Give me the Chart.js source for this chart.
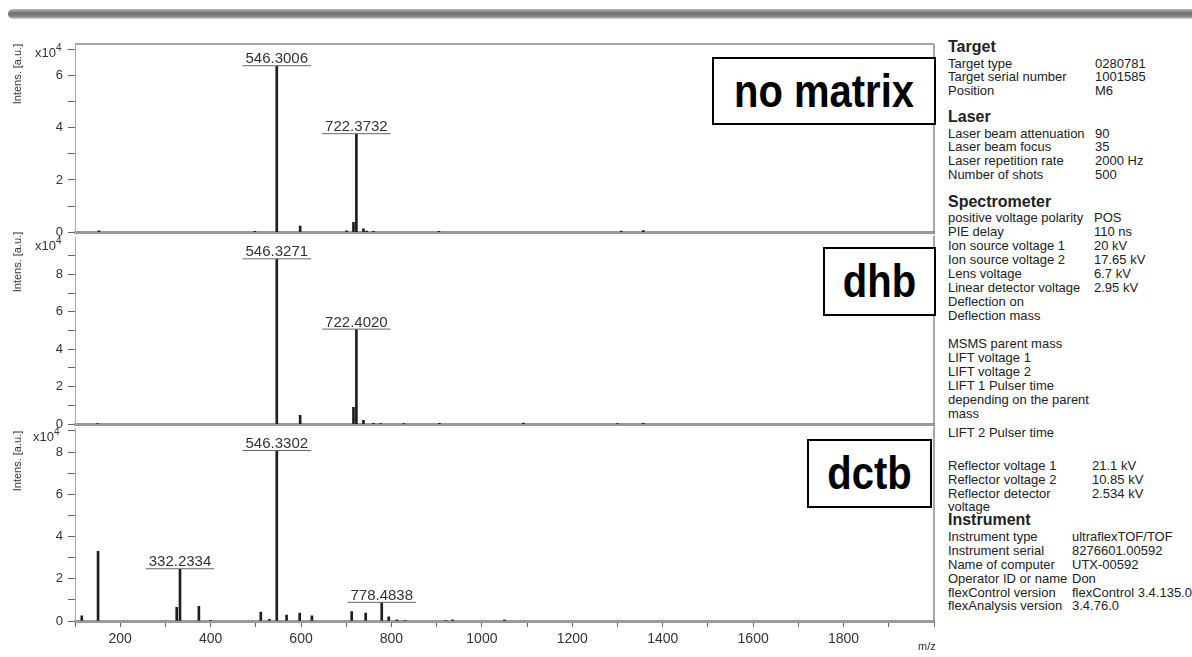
<!DOCTYPE html>
<html><head><meta charset="utf-8">
<script src="https://cdn.jsdelivr.net/npm/chart.js@4.4.1/dist/chart.umd.min.js"></script>
<style>
body{margin:0;width:1192px;height:657px;background:#fff;position:relative;overflow:hidden;font-family:"Liberation Sans",Arial,sans-serif;color:#222}
.band{position:absolute;left:8px;top:9px;width:1184px;height:10px;border-radius:5px 0 0 5px;background:linear-gradient(#b8b8b8,#6e6e6e 40%,#888 75%,#d8d8d8)}
.cv{position:absolute;left:0}
.ylab{position:absolute;font-size:11px;transform:translate(-50%,-50%) rotate(-90deg);white-space:nowrap;color:#333}
.mult{position:absolute;font-size:13px;color:#333;line-height:14px}
.mult sup{font-size:10px;vertical-align:6px;line-height:0}
.tag{position:absolute;border:2px solid #000;box-sizing:border-box;display:flex;align-items:center;justify-content:center;font-weight:bold;font-size:40px;color:#000;background:#fff}
.tag span{display:inline-block;transform:scaleY(1.15)}
.info div{position:absolute;white-space:nowrap;line-height:14px;font-size:13px;color:#222}
.info div.h{font-weight:bold;font-size:16px;line-height:16px}
.mz{position:absolute;left:918px;top:640px;font-size:11px;color:#333}
</style>
</head><body>
<div class="band"></div>

<div class="cv" style="top:30px"><canvas id="c1" width="945" height="215"></canvas></div>
<div class="cv" style="top:225px"><canvas id="c2" width="945" height="212"></canvas></div>
<div class="cv" style="top:416px"><canvas id="c3" width="945" height="241"></canvas></div>

<div class="ylab" style="left:17px;top:74px">Intens. [a.u.]</div>
<div class="ylab" style="left:17px;top:262px">Intens. [a.u.]</div>
<div class="ylab" style="left:17px;top:461px">Intens. [a.u.]</div>
<div class="mult" style="left:35px;top:46px">x10<sup>4</sup></div>
<div class="mult" style="left:35px;top:239px">x10<sup>4</sup></div>
<div class="mult" style="left:33px;top:430px">x10<sup>4</sup></div>

<div class="tag" style="left:712px;top:57px;width:224px;height:68px"><span>no matrix</span></div>
<div class="tag" style="left:823px;top:247px;width:113px;height:69px"><span>dhb</span></div>
<div class="tag" style="left:807px;top:439px;width:125px;height:69px"><span>dctb</span></div>
<div class="mz">m/z</div>

<div class="info" id="info"></div>

<script>
// ---- data (m/z, intensity in a.u.) ----
const noMatrixMz  = [153, 498, 546.3006, 598, 701, 716, 722.3732, 738, 745, 760, 905, 1308, 1357];
const noMatrixInt = [500, 300, 63500, 2300, 500, 3800, 37500, 1300, 400, 300, 300, 400, 600];
const noMatrixPeakLabels = [546.3006, 722.3732];

const dhbMz  = [150, 546.3271, 598, 716, 722.4020, 738, 760, 776, 827, 906, 1092, 1300, 1357];
const dhbInt = [300, 88000, 4700, 9000, 50500, 2000, 500, 300, 200, 400, 600, 200, 500];
const dhbPeakLabels = [546.3271, 722.4020];

const dctbMz  = [115, 151, 325, 332.2334, 374, 400, 511, 530, 546.3302, 568, 597, 624, 712, 743, 778.4838, 794, 812, 830, 920, 935, 1050];
const dctbInt = [2500, 33000, 6500, 24500, 7000, 300, 4200, 800, 80500, 2800, 3800, 2500, 4500, 3800, 8600, 2000, 500, 300, 300, 500, 500];
const dctbPeakLabels = [332.2334, 546.3302, 778.4838];

const yMaxes = [72000, 99500, 91000];
// tick marks (x10^4); labels on even values
const yTicksNoMatrix = [0, 1, 2, 3, 4, 5, 6, 7];
const yTicksDhb      = [0, 1, 2, 3, 4, 5, 6, 7, 8, 9];
const yTicksDctb     = [0, 1, 2, 3, 4, 5, 6, 7, 8, 9];
const yTickLabels    = [0, 2, 4, 6, 8];

const xMin = 100, xMax = 2000;
const xTicks = [100, 200, 300, 400, 500, 600, 700, 800, 900, 1000, 1100, 1200, 1300, 1400, 1500, 1600, 1700, 1800, 1900, 2000];
const xLabelTicks = [200, 400, 600, 800, 1000, 1200, 1400, 1600, 1800];

const infoRows = [
  // [centerY, label, value, valueX, heading]
  [47,'Target','',0,true],
  [64,'Target type','0280781',1095],
  [77,'Target serial number','1001585',1095],
  [91,'Position','M6',1095],
  [117,'Laser','',0,true],
  [134,'Laser beam attenuation','90',1095],
  [147,'Laser beam focus','35',1095],
  [161,'Laser repetition rate','2000 Hz',1095],
  [175,'Number of shots','500',1095],
  [202,'Spectrometer','',0,true],
  [218,'positive voltage polarity','POS',1094],
  [232,'PIE delay','110 ns',1094],
  [246,'Ion source voltage 1','20 kV',1094],
  [260,'Ion source voltage 2','17.65 kV',1094],
  [274,'Lens voltage','6.7 kV',1094],
  [288,'Linear detector voltage','2.95 kV',1094],
  [302,'Deflection on','',0],
  [316,'Deflection mass','',0],
  [344,'MSMS parent mass','',0],
  [358,'LIFT voltage 1','',0],
  [372,'LIFT voltage 2','',0],
  [386,'LIFT 1 Pulser time','',0],
  [400,'depending on the parent','',0],
  [414,'mass','',0],
  [433,'LIFT 2 Pulser time','',0],
  [466,'Reflector voltage 1','21.1 kV',1092],
  [480,'Reflector voltage 2','10.85 kV',1092],
  [494,'Reflector detector','2.534 kV',1092],
  [507,'voltage','',0],
  [520,'Instrument','',0,true],
  [537,'Instrument type','ultraflexTOF/TOF',1072],
  [551,'Instrument serial','8276601.00592',1072],
  [565,'Name of computer','UTX-00592',1072],
  [579,'Operator ID or name','Don',1072],
  [593,'flexControl version','flexControl 3.4.135.0',1072],
  [606,'flexAnalysis version','3.4.76.0',1072]
];

// ---- info panel ----
const info = document.getElementById('info');
infoRows.forEach(r => {
  const d = document.createElement('div');
  d.textContent = r[1];
  d.style.left = '948px';
  d.style.top = (r[0] - (r[4] ? 8 : 7)) + 'px';
  if (r[4]) d.className = 'h';
  info.appendChild(d);
  if (r[2]) {
    const v = document.createElement('div');
    v.textContent = r[2];
    v.style.left = r[3] + 'px';
    v.style.top = (r[0] - 7) + 'px';
    info.appendChild(v);
  }
});

// ---- charts ----
Chart.defaults.font.family = '"Liberation Sans", Arial, sans-serif';

const peakLabelPlugin = {
  id: 'peakLabels',
  afterDatasetsDraw(chart, args, opts) {
    const {ctx, scales:{x, y}} = chart;
    const mz = opts.mz, ints = opts.ints;
    ctx.save();
    ctx.font = '15px "Liberation Sans", Arial, sans-serif';
    ctx.fillStyle = '#333';
    ctx.strokeStyle = '#666';
    ctx.lineWidth = 1;
    ctx.textAlign = 'center';
    ctx.textBaseline = 'alphabetic';
    opts.labels.forEach(m => {
      const i = mz.indexOf(m);
      const px = x.getPixelForValue(m);
      const py = y.getPixelForValue(ints[i]);
      const txt = m.toFixed(4);
      const w = ctx.measureText(txt).width;
      ctx.fillText(txt, px, py - 3);
      ctx.beginPath();
      ctx.moveTo(px - w/2 - 3, py - 0.5);
      ctx.lineTo(px + w/2 + 3, py - 0.5);
      ctx.stroke();
    });
    ctx.restore();
  }
};

const framePlugin = {
  id: 'frame',
  afterDraw(chart, args, opts) {
    const {ctx, chartArea:a} = chart;
    ctx.save();
    ctx.strokeStyle = '#8a8a8a';
    ctx.lineWidth = 1.5;
    ctx.beginPath();
    ctx.moveTo(a.right, a.top - (opts.top ? 0 : 2));
    ctx.lineTo(a.right, a.bottom + 2);
    if (opts.top) { ctx.moveTo(a.left, a.top); ctx.lineTo(a.right, a.top); }
    ctx.stroke();
    ctx.restore();
  }
};

function makePanel(id, mz, ints, labels, ymax, yTicks, padTop, showX, isTop) {
  const data = mz.map((m, i) => ({x: m, y: ints[i]}));
  return new Chart(document.getElementById(id), {
    type: 'bar',
    data: { datasets: [{ data, backgroundColor: '#1e1e1e', barThickness: 2, grouped: false }] },
    options: {
      responsive: false, animation: false,
      layout: { padding: { top: padTop, right: 11, left: 0, bottom: 0 } },
      plugins: {
        legend: {display: false}, tooltip: {enabled: false},
        peakLabels: { mz, ints, labels },
        frame: { top: isTop }
      },
      scales: {
        x: {
          type: 'linear', min: xMin, max: xMax, offset: false,
          grid: { offset: false, drawOnChartArea: false, drawTicks: showX, tickLength: 6, color: '#666' },
          border: { display: true, color: '#9a9a9a', width: 3 },
          ticks: {
            display: showX, autoSkip: false, maxRotation: 0, minRotation: 0,
            padding: 4, color: '#333', font: { size: 14 },
            callback: v => xLabelTicks.includes(v) ? String(v) : ''
          },
          afterBuildTicks: s => { s.ticks = xTicks.map(v => ({value: v})); },
          afterFit: s => { s.height = showX ? 36 : 10; }
        },
        y: {
          min: 0, max: ymax,
          grid: { drawOnChartArea: false, tickLength: 7, color: '#666' },
          border: { display: true, color: '#aaa', width: 1 },
          ticks: {
            autoSkip: false, padding: 5, color: '#333', font: { size: 13 },
            callback: v => yTickLabels.includes(v / 10000) ? String(v / 10000) : ''
          },
          afterBuildTicks: s => { s.ticks = yTicks.map(v => ({value: v * 10000})); },
          afterFit: s => { s.width = 75; }
        }
      }
    },
    plugins: [peakLabelPlugin, framePlugin]
  });
}

makePanel('c1', noMatrixMz, noMatrixInt, noMatrixPeakLabels, yMaxes[0], yTicksNoMatrix, 14, false, true);
makePanel('c2', dhbMz, dhbInt, dhbPeakLabels, yMaxes[1], yTicksDhb, 12, false, false);
makePanel('c3', dctbMz, dctbInt, dctbPeakLabels, yMaxes[2], yTicksDctb, 12, true, false);
</script>
</body></html>
